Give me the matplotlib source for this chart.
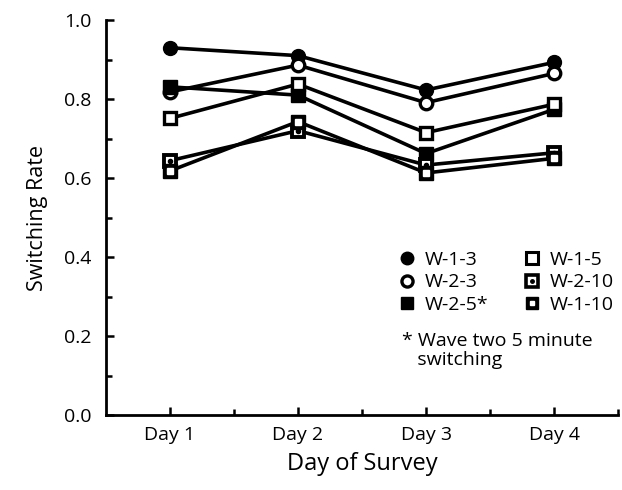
import numpy as np
import matplotlib.pyplot as plt
from matplotlib.legend_handler import HandlerTuple

plt.rcParams['font.family'] = ['Open Sans', 'DejaVu Sans']

# Dados
dias = ['Day 1', 'Day 2', 'Day 3', 'Day 4']
x = [1, 2, 3, 4]

w_1_3 = [0.93, 0.91, 0.823, 0.893]
w_2_3 = [0.818, 0.886, 0.791, 0.865]
w_2_5 = [0.831, 0.810, 0.662, 0.774]
w_1_5 = [0.751, 0.838, 0.715, 0.787]
w_2_10 = [0.644, 0.720, 0.633, 0.664]
w_1_10 = [0.618, 0.743, 0.613, 0.650]

fig = plt.figure(figsize=(6.22, 4.90), dpi=100)
ax = fig.add_axes([0.170, 0.153, 0.824, 0.806])

lw = 2.6
ms = 10

# Linhas
ax.plot(x, w_1_3, color='black', lw=lw, marker='o', ms=ms, mfc='black', mec='black', zorder=3)
ax.plot(x, w_2_3, color='black', lw=lw, marker='o', ms=ms - 1, mfc='white', mec='black', mew=2.4, zorder=3)
ax.plot(x, w_2_5, color='black', lw=lw, marker='s', ms=ms, mfc='black', mec='black', zorder=3)
ax.plot(x, w_1_5, color='black', lw=lw, marker='s', ms=ms - 1, mfc='white', mec='black', mew=2.4, zorder=3)
ax.plot(x, w_2_10, color='black', lw=lw, marker='s', ms=ms - 1, mfc='white', mec='black', mew=2.8, zorder=3)
ax.plot(x, w_2_10, ls='none', marker='o', ms=3, mfc='black', mec='black', zorder=4)
ax.plot(x, w_1_10, color='black', lw=lw, marker='s', ms=ms, mfc='black', mec='black', zorder=3)
ax.plot(x, w_1_10, ls='none', marker='s', ms=4, mfc='white', mec='white', zorder=4)

# Legenda
h13, = ax.plot([], [], ls='none', marker='o', ms=ms - 1, mfc='black', mec='black')
h23, = ax.plot([], [], ls='none', marker='o', ms=ms - 2, mfc='white', mec='black', mew=2.4)
h25, = ax.plot([], [], ls='none', marker='s', ms=ms - 1, mfc='black', mec='black')
h15, = ax.plot([], [], ls='none', marker='s', ms=ms - 2, mfc='white', mec='black', mew=2.2)
h210a, = ax.plot([], [], ls='none', marker='s', ms=ms - 2, mfc='white', mec='black', mew=2.6)
h210b, = ax.plot([], [], ls='none', marker='o', ms=2.5, mfc='black', mec='black')
h110a, = ax.plot([], [], ls='none', marker='s', ms=ms - 1, mfc='black', mec='black')
h110b, = ax.plot([], [], ls='none', marker='s', ms=3.5, mfc='white', mec='white')

handles = [h13, h23, h25, h15, (h210a, h210b), (h110a, h110b)]
labels = ['W-1-3', 'W-2-3', 'W-2-5*', 'W-1-5', 'W-2-10', 'W-1-10']
ax.legend(handles, labels, ncol=2, loc='upper left', bbox_to_anchor=(0.575, 0.415),
          frameon=False, fontsize=14, handlelength=0.7, handletextpad=0.55,
          columnspacing=1.9, labelspacing=0.22, borderaxespad=0, borderpad=0,
          handler_map={tuple: HandlerTuple(ndivide=1, pad=0)})
ax.text(0.578, 0.21, '* Wave two 5 minute\n   switching', transform=ax.transAxes,
        fontsize=14, va='top', ha='left', linespacing=1.05)

# Eixos
ax.set_xlim(0.5, 4.5)
ax.set_ylim(0, 1.0)
ax.set_xticks(x)
ax.set_xticklabels(dias)
ax.set_xticks([1.5, 2.5, 3.5, 4.5], minor=True)
ax.set_yticks(np.arange(0, 1.01, 0.2))
ax.set_yticklabels(['0.0', '0.2', '0.4', '0.6', '0.8', '1.0'])
ax.set_yticks(np.arange(0.1, 1.0, 0.2), minor=True)
ax.tick_params(which='both', direction='in', width=1.8, labelsize=14, pad=8)
ax.tick_params(which='major', length=6)
ax.tick_params(which='minor', length=4)
ax.tick_params(axis='y', pad=10)

for s in ['top', 'right']:
    ax.spines[s].set_visible(False)
for s in ['left', 'bottom']:
    ax.spines[s].set_linewidth(2)

ax.set_ylabel('Switching Rate', fontsize=15.5, labelpad=12)
ax.set_xlabel('Day of Survey', fontsize=17, labelpad=6)

plt.savefig('out.png', dpi=100)
